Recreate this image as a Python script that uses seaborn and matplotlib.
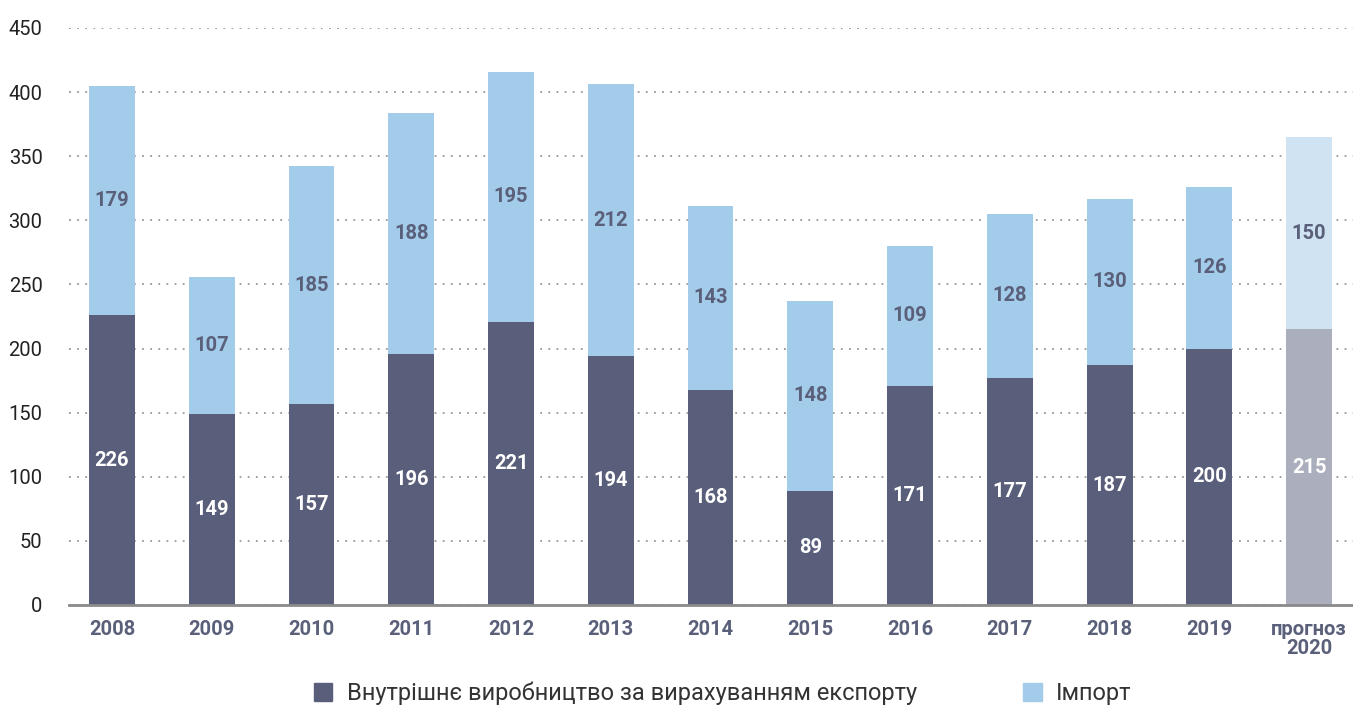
import matplotlib
matplotlib.use("Agg")
import matplotlib.pyplot as plt
from matplotlib.patches import Patch
import pandas as pd
import seaborn as sns

years = ["2008", "2009", "2010", "2011", "2012", "2013", "2014",
         "2015", "2016", "2017", "2018", "2019", "прогноз\n2020"]
domestic = [226, 149, 157, 196, 221, 194, 168, 89, 171, 177, 187, 200, 215]
imports = [179, 107, 185, 188, 195, 212, 143, 148, 109, 128, 130, 126, 150]

DARK = "#595e7a"
LIGHT = "#a3cbea"
DARK_FADED = "#abaebd"
LIGHT_FADED = "#cfe3f3"
TEXT = "#5a5f7a"

df = pd.DataFrame({"year": years, "domestic": domestic, "imports": imports})
df["total"] = df["domestic"] + df["imports"]

sns.set_theme(style="white")
plt.rcParams["font.family"] = ["Roboto", "DejaVu Sans"]

fig = plt.figure(figsize=(13.53, 7.07), dpi=100)
ax = fig.add_axes([0.051, 0.1443, 0.949, 0.8161])

light_cols = [LIGHT] * (len(years) - 1) + [LIGHT_FADED]
dark_cols = [DARK] * (len(years) - 1) + [DARK_FADED]

sns.barplot(data=df, x="year", y="total", hue="year", palette=light_cols,
            width=0.46, legend=False, saturation=1, linewidth=0, ax=ax, zorder=2)
sns.barplot(data=df, x="year", y="domestic", hue="year", palette=dark_cols,
            width=0.46, legend=False, saturation=1, linewidth=0, ax=ax, zorder=3)

# value labels
for i, (d, m) in enumerate(zip(domestic, imports)):
    ax.text(i, d / 2, str(d), ha="center", va="center", color="white",
            fontsize=14.5, fontweight="bold", zorder=5)
    ax.text(i, d + m / 2, str(m), ha="center", va="center", color=TEXT,
            fontsize=14.5, fontweight="bold", zorder=5)

ax.set_ylim(0, 450)
ax.set_xlim(-0.431, 12.44)
ax.set_yticks(range(0, 451, 50))
ax.yaxis.grid(True, linestyle=(0, (1, 3.5)), color="#999999", linewidth=1.3, zorder=0)
ax.xaxis.grid(False)
ax.set_axisbelow(True)

for s in ["top", "right", "left"]:
    ax.spines[s].set_visible(False)
ax.spines["bottom"].set_color("#8a8a8a")
ax.spines["bottom"].set_linewidth(2)
ax.spines["bottom"].set_zorder(6)

ax.tick_params(axis="y", length=0, pad=19, labelsize=14.5, labelcolor="#222222")
ax.tick_params(axis="x", length=0, pad=11, labelsize=14.5, labelcolor=TEXT)
for lbl in ax.get_xticklabels():
    lbl.set_fontweight("bold")
    lbl.set_linespacing(0.95)
ax.set_xlabel("")
ax.set_ylabel("")

handles = [Patch(color=DARK, label="Внутрішнє виробництво за вирахуванням експорту"),
           Patch(color=LIGHT, label="Імпорт")]
fig.legend(handles=handles, loc="center", bbox_to_anchor=(0.534, 0.019), ncol=2,
           frameon=False, fontsize=17, handlelength=0.8, handleheight=0.8,
           handletextpad=0.6, columnspacing=4.5, labelcolor="#333333")

fig.savefig("out.png", dpi=100)
